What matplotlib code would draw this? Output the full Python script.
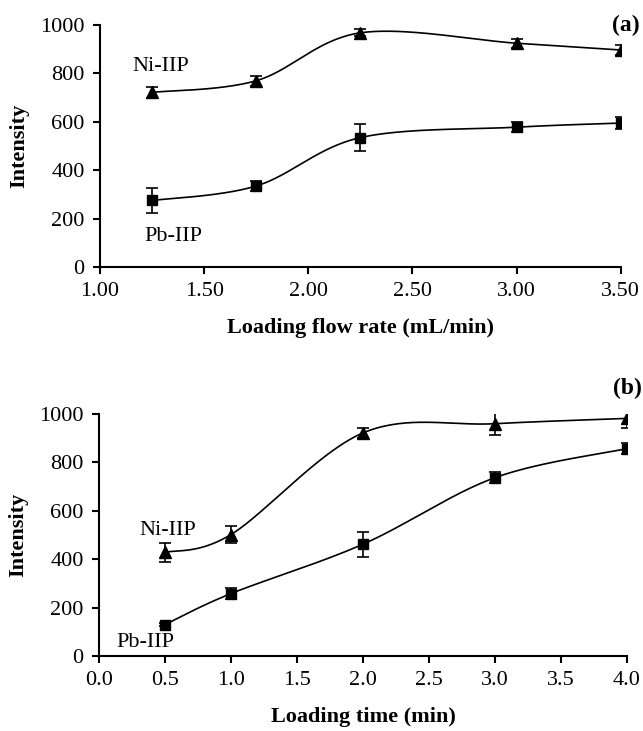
import matplotlib
matplotlib.use("Agg")
import matplotlib.pyplot as plt
import numpy as np

plt.rcParams['font.family'] = ['Liberation Serif', 'DejaVu Serif']

# panel (a): loading flow rate
flow = [1.25, 1.75, 2.25, 3.00, 3.50]
ni_flow = [722, 770, 968, 925, 897]
ni_flow_err = [22, 20, 15, 18, 20]
pb_flow = [275, 335, 535, 578, 595]
pb_flow_err = [52, 22, 55, 20, 25]

# panel (b): loading time
time = [0.5, 1.0, 2.0, 3.0, 4.0]
ni_time = [428, 502, 922, 960, 982]
ni_time_err = [38, 35, 22, 45, 38]
pb_time = [130, 258, 462, 737, 857]
pb_time_err = [8, 22, 52, 22, 22]


def smooth(x, y, n=60):
    # Excel-style smoothed line (Catmull-Rom as Bezier segments)
    p = np.column_stack([x, y]).astype(float)
    p = np.vstack([p[0], p, p[-1]])
    t = np.linspace(0, 1, n)[:, None]
    out = []
    for i in range(1, len(p) - 2):
        p0 = p[i]
        p3 = p[i + 1]
        c1 = p0 + (p[i + 1] - p[i - 1]) / 6
        c2 = p3 - (p[i + 2] - p[i]) / 6
        seg = ((1 - t)**3 * p0 + 3 * (1 - t)**2 * t * c1
               + 3 * (1 - t) * t**2 * c2 + t**3 * p3)
        out.append(seg)
    out = np.vstack(out)
    return out[:, 0], out[:, 1]


def draw(ax, x, y, err, marker, ms):
    xs, ys = smooth(x, y)
    ax.plot(xs, ys, color='black', lw=1.2)
    ax.errorbar(x, y, yerr=err, fmt=marker, color='black', ms=ms,
                capsize=4, elinewidth=1.2, capthick=1.2)


def style(ax):
    for s in ['top', 'right']:
        ax.spines[s].set_visible(False)
    ax.spines['left'].set_linewidth(1.5)
    ax.spines['bottom'].set_linewidth(1.5)
    ax.tick_params(direction='out', length=5, width=1.5, labelsize=16,
                   pad=6)
    ax.set_ylim(0, 1000)
    ax.set_yticks([0, 200, 400, 600, 800, 1000])
    ax.set_ylabel('Intensity', fontsize=16, fontweight='bold', labelpad=8)


fig = plt.figure(figsize=(6.43, 7.31), dpi=100)

ax1 = fig.add_axes([0.1555, 0.6347, 0.810, 0.331])
draw(ax1, flow, ni_flow, ni_flow_err, '^', 9)
draw(ax1, flow, pb_flow, pb_flow_err, 's', 6.5)
style(ax1)
ax1.set_xlim(1.0, 3.5)
ax1.set_xticks([1.0, 1.5, 2.0, 2.5, 3.0, 3.5])
ax1.set_xticklabels(['1.00', '1.50', '2.00', '2.50', '3.00', '3.50'])
ax1.set_xlabel('Loading flow rate (mL/min)', fontsize=16, fontweight='bold',
               labelpad=12)
ax1.text(1.29, 830, 'Ni-IIP', fontsize=16, ha='center', va='center')
ax1.text(1.35, 125, 'Pb-IIP', fontsize=16, ha='center', va='center')
fig.text(0.995, 0.965, '(a)', fontsize=17, fontweight='bold', ha='right',
         va='center')

ax2 = fig.add_axes([0.154, 0.1026, 0.821, 0.331])
draw(ax2, time, ni_time, ni_time_err, '^', 9)
draw(ax2, time, pb_time, pb_time_err, 's', 6.5)
style(ax2)
ax2.set_xlim(0.0, 4.0)
ax2.set_xticks(np.arange(0, 4.01, 0.5))
ax2.set_xticklabels(['%.1f' % v for v in np.arange(0, 4.01, 0.5)])
ax2.set_xlabel('Loading time (min)', fontsize=16, fontweight='bold',
               labelpad=12)
ax2.text(0.52, 520, 'Ni-IIP', fontsize=16, ha='center', va='center')
ax2.text(0.35, 55, 'Pb-IIP', fontsize=16, ha='center', va='center')
fig.text(0.998, 0.468, '(b)', fontsize=17, fontweight='bold', ha='right',
         va='center')

fig.savefig('out.png', dpi=100)
